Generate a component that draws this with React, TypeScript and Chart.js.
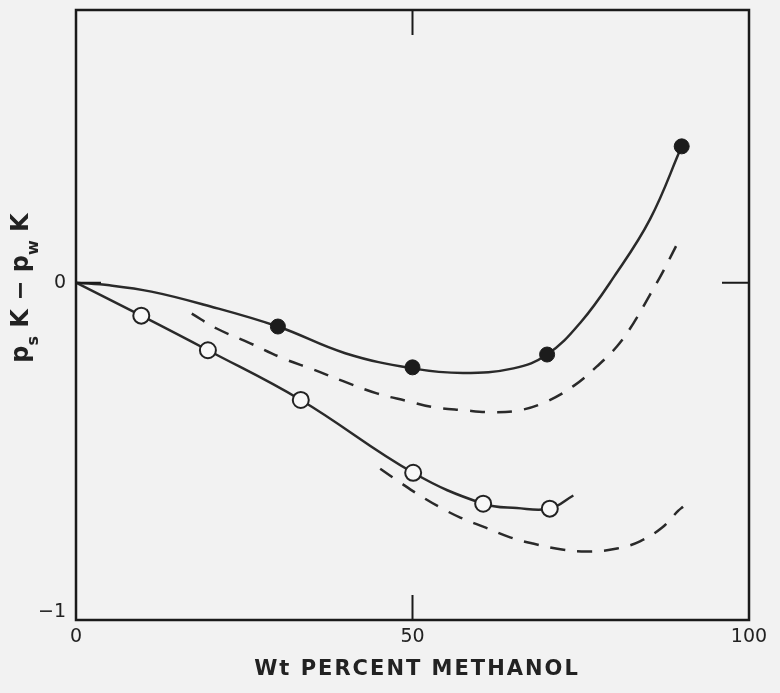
import React, { useEffect, useRef } from 'react';
import { Chart, registerables } from 'chart.js';
Chart.register(...registerables);

// Tick values
const xTicks = [0, 50, 100];
const yTicks = [-1, 0];
const xTitle = 'Wt PERCENT METHANOL';

// Measured points (filled circles)
const filledX = [30, 50, 70, 90];
const filledY = [-0.133, -0.257, -0.218, 0.414];

// Measured points (open circles)
const openX = [9.7, 19.6, 33.4, 50.1, 60.5, 70.4];
const openY = [-0.1, -0.205, -0.356, -0.577, -0.671, -0.686];

// Smooth solid curve through filled points
const upperCurveX = [0, 5, 11.2, 18.9, 30, 40, 50, 57.5, 65, 70, 75, 80, 85.3, 90];
const upperCurveY = [0, -0.008, -0.027, -0.066, -0.133, -0.214, -0.26, -0.274, -0.26, -0.218, -0.12, 0.02, 0.193, 0.414];

// Smooth solid curve through open points
const lowerCurveX = [0, 9.7, 19.6, 33.4, 50.1, 60.5, 65.5, 70.4, 73.9];
const lowerCurveY = [0, -0.1, -0.205, -0.356, -0.577, -0.671, -0.684, -0.686, -0.646];

// Dashed curves
const upperDashX = [17.2, 20.9, 25.9, 30.8, 35.2, 39.7, 44.7, 49.2, 53.1, 57.5, 62, 66, 70, 73.9, 77.4, 80.4, 82.8, 85.3, 87.2, 89.7];
const upperDashY = [-0.094, -0.139, -0.184, -0.23, -0.263, -0.299, -0.336, -0.359, -0.378, -0.387, -0.393, -0.387, -0.36, -0.314, -0.254, -0.193, -0.124, -0.036, 0.033, 0.133];

const lowerDashX = [45.2, 48.2, 51.1, 54.1, 57.1, 60.8, 64.5, 67.9, 72.2, 76.4, 80.4, 83.8, 87.1, 89.5, 90.2];
const lowerDashY = [-0.565, -0.607, -0.646, -0.682, -0.713, -0.743, -0.773, -0.792, -0.81, -0.816, -0.807, -0.785, -0.743, -0.692, -0.68];

const zip = (xs: number[], ys: number[]) => xs.map((x, i) => ({ x, y: ys[i] }));

const INK = '#222222';
const BG = '#f2f2f2';

const framePlugin = {
  id: 'frameAndTitles',
  beforeDraw(chart: any) {
    const ctx = chart.ctx;
    ctx.save();
    ctx.fillStyle = BG;
    ctx.fillRect(0, 0, chart.width, chart.height);
    ctx.restore();
  },
  afterDraw(chart: any) {
    const ctx = chart.ctx;
    const { left, right, top, bottom } = chart.chartArea;
    const xs = chart.scales.x;
    const ys = chart.scales.y;
    ctx.save();
    ctx.strokeStyle = '#1a1a1a';
    ctx.lineWidth = 2.5;
    ctx.strokeRect(left, top, right - left, bottom - top);
    ctx.lineWidth = 2;
    const tl = 25;
    // inward ticks at x = 50 (top and bottom)
    const px = xs.getPixelForValue(50);
    ctx.beginPath();
    ctx.moveTo(px, bottom);
    ctx.lineTo(px, bottom - tl);
    ctx.moveTo(px, top);
    ctx.lineTo(px, top + tl);
    // inward ticks at y = 0 (left and right)
    const py = ys.getPixelForValue(0);
    ctx.moveTo(left, py);
    ctx.lineTo(left + tl, py);
    ctx.moveTo(right, py);
    ctx.lineTo(right - tl - 2, py);
    ctx.stroke();

    // x axis title
    ctx.fillStyle = INK;
    ctx.font = 'bold 21px "DejaVu Sans"';
    (ctx as any).letterSpacing = '2px';
    ctx.textAlign = 'center';
    ctx.textBaseline = 'middle';
    ctx.fillText(xTitle, 417, 670);
    (ctx as any).letterSpacing = '0px';

    // y axis title with subscripts, rotated
    ctx.translate(28, 288);
    ctx.rotate(-Math.PI / 2);
    const big = 'bold 24px "DejaVu Sans"';
    const small = 'bold 16px "DejaVu Sans"';
    const parts: [string, string, number][] = [
      ['p', big, 0],
      ['s', small, 10],
      [' K − ', big, 0],
      ['p', big, 0],
      ['w', small, 10],
      [' K', big, 0],
    ];
    let total = 0;
    for (const [t, f] of parts) {
      ctx.font = f;
      total += ctx.measureText(t).width;
    }
    let cx = -total / 2;
    ctx.textAlign = 'left';
    ctx.textBaseline = 'alphabetic';
    for (const [t, f, dy] of parts) {
      ctx.font = f;
      ctx.fillText(t, cx, dy);
      cx += ctx.measureText(t).width;
    }
    ctx.restore();
  },
};

export default function App() {
  const ref = useRef<HTMLCanvasElement | null>(null);
  useEffect(() => {
    document.body.style.margin = '0';
    document.body.style.background = BG;
    const canvas = ref.current;
    if (!canvas) return;
    const lineBase = {
      pointRadius: 0,
      borderColor: '#2a2a2a',
      borderWidth: 2.5,
      tension: 0.4,
      fill: false,
      order: 2,
    };
    const chart = new Chart(canvas, {
      type: 'line',
      data: {
        datasets: [
          {
            label: 'filled',
            data: zip(filledX, filledY),
            showLine: false,
            pointRadius: 7.5,
            pointBackgroundColor: '#1c1c1c',
            pointBorderColor: '#1c1c1c',
            pointBorderWidth: 1,
            order: 0,
          },
          {
            label: 'open',
            data: zip(openX, openY),
            showLine: false,
            pointRadius: 8,
            pointBackgroundColor: '#f8f8f8',
            pointBorderColor: '#222',
            pointBorderWidth: 2,
            order: 0,
          },
          { label: 'upper', data: zip(upperCurveX, upperCurveY), ...lineBase },
          { label: 'lower', data: zip(lowerCurveX, lowerCurveY), ...lineBase },
          { label: 'upperDash', data: zip(upperDashX, upperDashY), ...lineBase, borderDash: [15, 12] },
          { label: 'lowerDash', data: zip(lowerDashX, lowerDashY), ...lineBase, borderDash: [15, 12] },
        ],
      },
      options: {
        responsive: false,
        animation: false,
        devicePixelRatio: 1,
        layout: { padding: { top: 7, right: 31, left: 0, bottom: 0 } },
        plugins: { legend: { display: false }, tooltip: { enabled: false } },
        scales: {
          x: {
            type: 'linear',
            min: 0,
            max: 100,
            grid: { display: false, drawTicks: false },
            border: { display: false },
            afterBuildTicks: (s: any) => {
              s.ticks = xTicks.map((v) => ({ value: v }));
            },
            afterFit: (s: any) => {
              s.height = 73;
              s.paddingLeft = 0;
              s.paddingRight = 0;
            },
            ticks: {
              autoSkip: false,
              maxRotation: 0,
              padding: 6,
              color: INK,
              font: { family: 'DejaVu Sans', size: 19 },
              callback: (v: any) => String(v),
            },
          },
          y: {
            type: 'linear',
            min: -1.024,
            max: 0.828,
            grid: { display: false, drawTicks: false },
            border: { display: false },
            afterBuildTicks: (s: any) => {
              s.ticks = yTicks.map((v) => ({ value: v }));
            },
            afterFit: (s: any) => {
              s.width = 76;
              s.paddingTop = 0;
              s.paddingBottom = 0;
            },
            ticks: {
              autoSkip: false,
              padding: 10,
              color: INK,
              font: { family: 'DejaVu Sans', size: 19 },
              callback: (v: any) => (Number(v) === -1 ? '−1' : String(v)),
            },
          },
        },
      },
      plugins: [framePlugin],
    });
    return () => chart.destroy();
  }, []);
  return (
    <div style={{ width: 780, height: 693, background: BG }}>
      <canvas ref={ref} width={780} height={693} style={{ display: 'block' }} />
    </div>
  );
}
